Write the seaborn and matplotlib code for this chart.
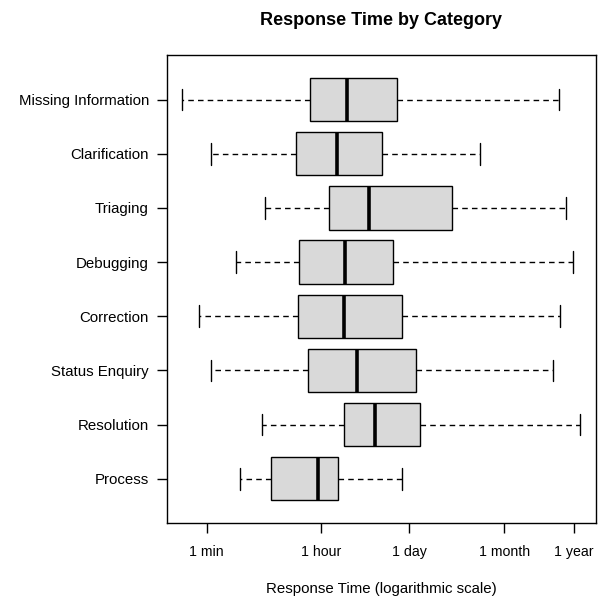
"""
Response time by category: horizontal boxplots on a log time axis.
"""

import pandas as pd
import numpy as np
import matplotlib
matplotlib.use("Agg")
import matplotlib.pyplot as plt
from matplotlib.ticker import NullLocator
import seaborn as sns


# Categories, top to bottom
categories = ['Missing Information', 'Clarification', 'Triaging', 'Debugging',
              'Correction', 'Status Enquiry', 'Resolution', 'Process']

# Five-number summaries in seconds (whisker low, Q1, median, Q3, whisker high)
whisker_low = [25, 69, 485, 170, 46, 69, 436, 200]
q1 = [2410, 1490, 4770, 1625, 1585, 2295, 8170, 596]
median = [9190, 6430, 20000, 8650, 8170, 13300, 24800, 3250]
q3 = [54700, 32600, 402000, 48400, 66800, 109000, 127000, 6730]
whisker_high = [1.89e7, 1.08e6, 2.43e7, 3.08e7, 1.96e7, 1.50e7, 3.96e7, 66800]

tick_values = [60, 3600, 86400, 2592000, 31536000]
tick_labels = ['1 min', '1 hour', '1 day', '1 month', '1 year']


def build_long_frame():
    """Build a long-form table: five values per category give exact quartiles."""
    rows = []
    for i, cat in enumerate(categories):
        for v in (whisker_low[i], q1[i], median[i], q3[i], whisker_high[i]):
            rows.append({'category': cat, 'seconds': v})
    return pd.DataFrame(rows)


def plot_response_times(df):
    sns.set_style("ticks")
    plt.rcParams['font.family'] = ['Liberation Sans', 'DejaVu Sans']
    plt.rcParams['text.color'] = 'black'
    plt.rcParams['axes.labelcolor'] = 'black'
    plt.rcParams['xtick.color'] = 'black'
    plt.rcParams['ytick.color'] = 'black'

    fig = plt.figure(figsize=(6.03, 6.0), dpi=100)
    ax = fig.add_axes([0.277, 0.128, 0.711, 0.780])

    sns.boxplot(data=df, x='seconds', y='category', order=categories,
                orient='h', log_scale=True, whis=(0, 100), width=0.8,
                color='#d9d9d9', saturation=1, linecolor='black', linewidth=1,
                showfliers=False,
                medianprops={'linewidth': 2.6, 'color': 'black'},
                whiskerprops={'linestyle': (0, (4, 3)), 'linewidth': 1},
                capprops={'linewidth': 1},
                ax=ax)

    ax.set_xlim(14.45, 6.95e7)
    ax.set_ylim(7.82, -0.82)
    ax.set_xticks(tick_values)
    ax.set_xticklabels(tick_labels)
    ax.xaxis.set_minor_locator(NullLocator())

    for spine in ax.spines.values():
        spine.set_visible(True)
        spine.set_linewidth(1)
        spine.set_color('black')

    ax.tick_params(axis='both', length=7, width=1, colors='black')
    ax.tick_params(axis='x', pad=9, labelsize=10.2)
    ax.tick_params(axis='y', pad=6, labelsize=10.8)

    ax.set_xlabel('Response Time (logarithmic scale)', fontsize=10.8, labelpad=16)
    ax.set_ylabel('')
    ax.set_title('Response Time by Category', fontsize=13, fontweight='bold', pad=22)

    fig.savefig('out.png', dpi=100)


if __name__ == "__main__":
    data = build_long_frame()
    plot_response_times(data)
